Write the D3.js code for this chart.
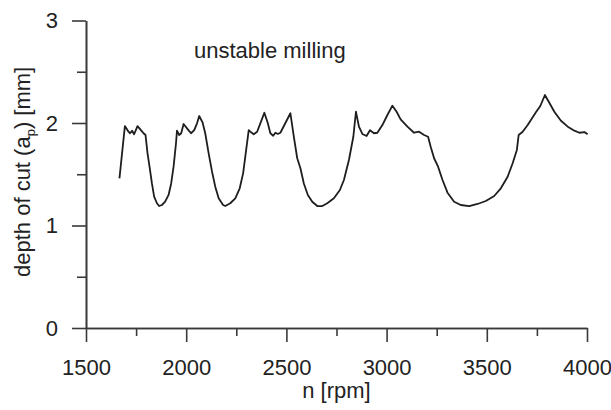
<!DOCTYPE html>
<html>
<head>
<meta charset="utf-8">
<title>unstable milling</title>
<script src="https://d3js.org/d3.v7.min.js"></script>
<style>
body { margin: 0; background: #fff; }
text { font-family: Arial, "Liberation Sans", sans-serif; fill: #222; }
</style>
</head>
<body>
<script>
// spindle speed n [rpm] and depth of cut a_p [mm]
var rpm = [1667, 1694, 1712, 1720, 1730, 1740, 1757, 1774, 1787, 1797,
           1807, 1817, 1829, 1840, 1854, 1865, 1879, 1895, 1912, 1925,
           1937, 1949, 1954, 1965, 1975, 1987, 2004, 2024, 2040, 2054,
           2065, 2082, 2095, 2112, 2129, 2145, 2162, 2184, 2195, 2220,
           2245, 2267, 2284, 2297, 2312, 2324, 2337, 2354, 2370, 2390,
           2407, 2420, 2434, 2445, 2457, 2470, 2495, 2520, 2537, 2554,
           2570, 2587, 2607, 2629, 2654, 2679, 2704, 2737, 2767, 2787,
           2812, 2834, 2847, 2862, 2879, 2900, 2917, 2937, 2954, 2979,
           3004, 3029, 3050, 3070, 3104, 3137, 3162, 3187, 3207, 3220,
           3237, 3257, 3279, 3304, 3337, 3370, 3412, 3454, 3495, 3537,
           3570, 3604, 3629, 3650, 3659, 3679, 3704, 3729, 3745, 3767,
           3790, 3812, 3837, 3870, 3904, 3937, 3962, 3987, 4003];
var depth = [1.46, 1.97, 1.915, 1.90, 1.925, 1.89, 1.97, 1.93, 1.90, 1.883,
             1.704, 1.574, 1.41, 1.281, 1.217, 1.19, 1.20, 1.232, 1.298, 1.41,
             1.574, 1.80, 1.925, 1.883, 1.90, 1.99, 1.948, 1.90, 1.93, 1.997,
             2.068, 2.003, 1.90, 1.704, 1.525, 1.379, 1.265, 1.20, 1.19, 1.217,
             1.265, 1.363, 1.509, 1.704, 1.93, 1.909, 1.89, 1.915, 1.997, 2.10,
             2.0, 1.90, 1.876, 1.905, 1.893, 1.905, 2.0, 2.095, 1.866, 1.656,
             1.558, 1.41, 1.298, 1.232, 1.19, 1.19, 1.217, 1.265, 1.346, 1.444,
             1.639, 1.866, 2.11, 1.964, 1.893, 1.873, 1.93, 1.90, 1.905, 1.98,
             2.078, 2.169, 2.11, 2.036, 1.964, 1.905, 1.915, 1.883, 1.866, 1.769,
             1.656, 1.574, 1.444, 1.32, 1.232, 1.20, 1.19, 1.21, 1.239, 1.288,
             1.363, 1.476, 1.607, 1.737, 1.883, 1.915, 1.98, 2.056, 2.104, 2.166,
             2.273, 2.198, 2.11, 2.022, 1.964, 1.925, 1.905, 1.912, 1.89];

var xMajor = [1500, 2000, 2500, 3000, 3500, 4000];
var xMinor = [1750, 2250, 2750, 3250, 3750];
var yMajor = [0, 1, 2, 3];
var yMinor = [0.5, 1.5, 2.5];

var w = 611;
var h = 410;
var svg = d3.select('body')
            .append('svg')
            .attr('width', w)
            .attr('height', h);

var x = d3.scaleLinear().domain([1500, 4000]).range([86, 587]);
var y = d3.scaleLinear().domain([0, 3]).range([328, 20.5]);

// minor ticks first, then the major ones with labels
function styleAxis(g) {
    g.selectAll('path, line').attr('stroke', '#3a3a3a').attr('stroke-width', 1.6);
    g.selectAll('text')
     .attr('font-family', 'Arial, "Liberation Sans", sans-serif')
     .attr('font-size', 22)
     .attr('fill', '#222');
}

svg.append('g')
   .attr('transform', 'translate(0,' + y(0) + ')')
   .call(d3.axisBottom(x).tickValues(xMinor).tickSize(8).tickSizeOuter(0).tickFormat(''))
   .call(styleAxis);
svg.append('g')
   .attr('transform', 'translate(0,' + y(0) + ')')
   .call(d3.axisBottom(x).tickValues(xMajor).tickSize(14).tickSizeOuter(0).tickPadding(17).tickFormat(d3.format('d')))
   .call(styleAxis);

svg.append('g')
   .attr('transform', 'translate(' + x(1500) + ',0)')
   .call(d3.axisLeft(y).tickValues(yMinor).tickSize(9).tickSizeOuter(0).tickFormat(''))
   .call(styleAxis);
svg.append('g')
   .attr('transform', 'translate(' + x(1500) + ',0)')
   .call(d3.axisLeft(y).tickValues(yMajor).tickSize(14).tickSizeOuter(0).tickPadding(14).tickFormat(d3.format('d')))
   .call(styleAxis);

// the curve
var pts = rpm.map(function(n, i) { return [n, depth[i]]; });
var line = d3.line()
             .x(function(d) { return x(d[0]); })
             .y(function(d) { return y(d[1]); });
svg.append('path')
   .datum(pts)
   .attr('d', line)
   .attr('fill', 'none')
   .attr('stroke', '#1e1e1e')
   .attr('stroke-width', 1.8)
   .attr('stroke-linejoin', 'round');

// labels
svg.append('text')
   .attr('x', 194)
   .attr('y', 58)
   .attr('font-size', 22)
   .text('unstable milling');

svg.append('text')
   .attr('x', (x(1500) + x(4000)) / 2)
   .attr('y', 398)
   .attr('text-anchor', 'middle')
   .attr('font-size', 22)
   .text('n [rpm]');

var yl = svg.append('text')
            .attr('transform', 'translate(29.5,277) rotate(-90)')
            .attr('font-size', 22);
yl.append('tspan').text('depth of cut (a');
yl.append('tspan').attr('font-size', 13).attr('dy', 5).text('p');
yl.append('tspan').attr('dy', -5).text(') [mm]');
</script>
</body>
</html>
